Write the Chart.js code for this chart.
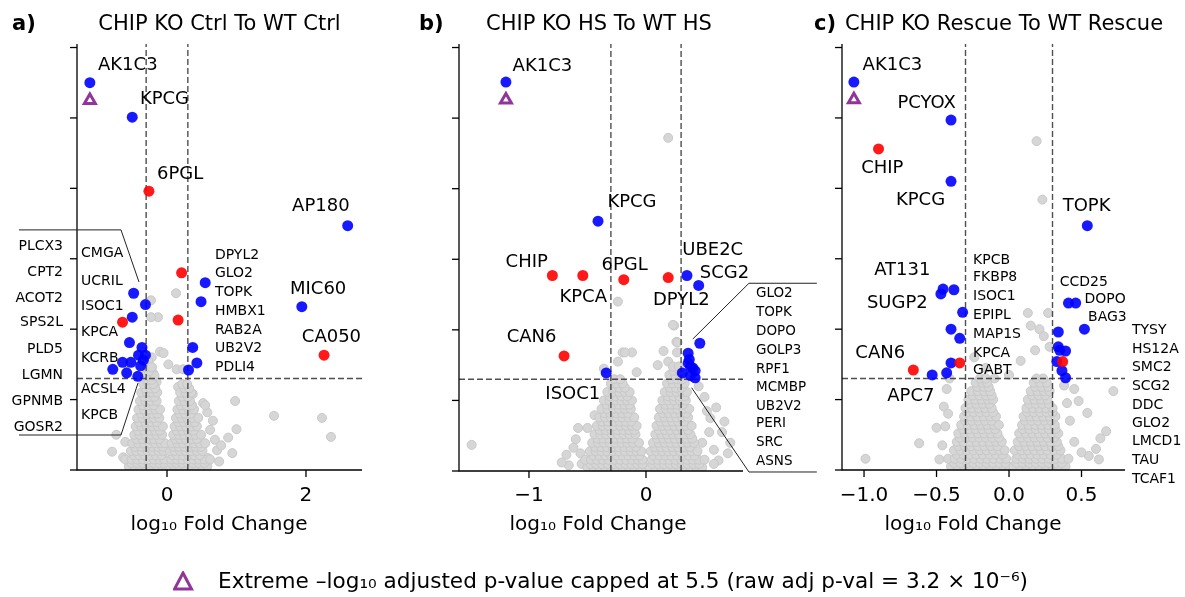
<!DOCTYPE html>
<html>
<head>
<meta charset="utf-8">
<script src="https://cdn.jsdelivr.net/npm/chart.js@4.4.0/dist/chart.umd.min.js"></script>
<style>
  body { margin: 0; background: #fff; width: 1185px; height: 597px; overflow: hidden; position: relative; font-family: "DejaVu Sans", sans-serif; }
  canvas { position: absolute; left: 0; top: 0; }
  #legtri { position: absolute; left: 173px; top: 571px; }
  #legtext { position: absolute; left: 218px; top: 568px; font-size: 22px; line-height: 26px; white-space: nowrap; transform-origin: 0 50%; color: #000; }
</style>
</head>
<body>
<canvas id="pa" width="1185" height="597"></canvas>
<canvas id="pb" width="1185" height="597"></canvas>
<canvas id="pc" width="1185" height="597"></canvas>
<svg id="legtri" width="22" height="22"><polygon points="10,2 18.5,18 1.5,18" fill="none" stroke="#92359a" stroke-width="3" stroke-linejoin="miter"/></svg>
<div id="legtext">Extreme –log₁₀ adjusted p-value capped at 5.5 (raw adj p-val = 3.2 × 10⁻⁶)</div>
<script>
// thresholds and ticks
const fcCut = 0.3;
const pCut = 1.3;
const yTicks = [0, 1, 2, 3, 4, 5, 6];
const xTicksA = [0, 2], xLabelsA = ["0", "2"];
const xTicksB = [-1, 0], xLabelsB = ["−1", "0"];
const xTicksC = [-1.0, -0.5, 0.0, 0.5], xLabelsC = ["−1.0", "−0.5", "0.0", "0.5"];

// ---- panel a: CHIP KO Ctrl vs WT Ctrl ----
const blueA = [[-1.11,5.5],[-0.50,5.01],[2.60,3.47],[1.94,2.32],[0.55,2.66],[0.49,2.39],[0.37,1.74],[0.43,1.52],[0.31,1.42],
  [-0.48,2.51],[-0.31,2.35],[-0.50,2.17],[-0.54,1.81],[-0.36,1.74],[-0.41,1.63],[-0.31,1.63],[-0.34,1.56],[-0.64,1.53],
  [-0.52,1.53],[-0.38,1.48],[-0.78,1.43],[-0.58,1.38],[-0.42,1.33]];
const redA = [[-0.26,3.96],[2.26,1.63],[0.21,2.80],[0.16,2.13],[-0.64,2.10]];
const capA = [[-1.11,5.25]];
// non-significant proteins: scattered ones, then the dense core rows [y, [x...]]
const grayA = [
  [0.13,2.51],[-0.23,2.41],[-0.13,2.17],[-0.23,2.17],[-0.10,1.68],[-0.22,1.60],[0.14,1.43],[0.23,1.43],[-0.22,1.46],
  [0.16,1.18],[0.37,1.08],[0.52,0.95],[0.58,0.82],[0.69,0.43],[0.59,0.17],[0.94,0.24],[0.98,0.98],[1.00,0.58],[0.88,0.46],
  [1.54,0.77],[2.23,0.74],[2.36,0.47],[-0.79,0.26],[-0.73,0.50],[-0.63,0.18],[-0.53,0.04],[0.55,0.92],[0.62,0.57],
  [0.72,0.28],[0.78,0.35],[-0.05,1.66],[0.02,1.50],[-0.27,1.55],[-0.20,1.38],[-0.15,1.25],[-0.60,0.40],[0.66,0.70],[0.75,0.12]];
const grayRowsA = [
  [0.05,[-0.55,-0.47,-0.39,-0.31,-0.23,-0.15,-0.07,-0.01,0.03,0.10,0.18,0.26,0.34,0.42,0.50,0.58]],
  [0.10,[-0.51,-0.43,-0.35,-0.27,-0.19,-0.11,-0.04,0.06,0.14,0.22,0.30,0.38,0.46,0.54]],
  [0.15,[-0.60,-0.51,-0.43,-0.35,-0.27,-0.19,-0.11,-0.04,0.06,0.14,0.22,0.30,0.38,0.46,0.54,0.62]],
  [0.21,[-0.48,-0.40,-0.32,-0.24,-0.16,-0.08,0.08,0.15,0.23,0.31,0.39,0.47]],
  [0.27,[-0.52,-0.44,-0.36,-0.28,-0.20,-0.12,-0.05,0.04,0.11,0.19,0.27,0.35,0.43,0.51]],
  [0.33,[-0.46,-0.37,-0.29,-0.21,-0.13,-0.06,0.09,0.17,0.25,0.33,0.41,0.49]],
  [0.38,[-0.50,-0.41,-0.33,-0.25,-0.17,-0.09,-0.03,0.07,0.15,0.23,0.31,0.39,0.47,0.55]],
  [0.44,[-0.44,-0.35,-0.27,-0.19,-0.11,0.12,0.19,0.27,0.35,0.43]],
  [0.50,[-0.47,-0.39,-0.31,-0.23,-0.15,-0.07,0.09,0.17,0.25,0.33,0.41,0.49]],
  [0.56,[-0.42,-0.33,-0.25,-0.17,-0.10,0.14,0.22,0.30,0.38]],
  [0.62,[-0.45,-0.37,-0.29,-0.21,-0.13,-0.06,0.11,0.19,0.27,0.35,0.43]],
  [0.68,[-0.40,-0.31,-0.23,-0.15,0.16,0.24,0.32,0.40]],
  [0.74,[-0.43,-0.35,-0.27,-0.19,-0.11,0.13,0.21,0.29,0.37,0.45]],
  [0.80,[-0.37,-0.29,-0.21,-0.14,0.18,0.26,0.34]],
  [0.86,[-0.41,-0.33,-0.25,-0.17,-0.10,0.15,0.23,0.31,0.39]],
  [0.92,[-0.35,-0.27,-0.19,0.20,0.28,0.36]],
  [0.98,[-0.39,-0.31,-0.23,-0.15,0.17,0.25,0.33]],
  [1.04,[-0.33,-0.25,-0.18,0.22,0.30]],
  [1.10,[-0.37,-0.29,-0.21,-0.14,0.19,0.27,0.35]],
  [1.16,[-0.31,-0.24,-0.17,0.25,0.32]],
  [1.22,[-0.34,-0.27,-0.20,0.22,0.29]],
  [1.28,[-0.29,-0.22]],
  [1.34,[-0.32,-0.25,-0.18]],
  [1.40,[-0.26]],
  [1.46,[-0.29,-0.22]]];
const bigA = [["AK1C3",-0.993,5.74],["KPCG",-0.39,5.26],["6PGL",-0.144,4.2],["AP180",1.8,3.75],["MIC60",1.77,2.57],["CA050",1.94,1.89]];
const listsA = [
  { x: -1.496, align: "right", names: ["PLCX3","CPT2","ACOT2","SPS2L","PLD5","LGMN","GPNMB","GOSR2"], ys: [3.18,2.81,2.44,2.09,1.72,1.35,0.97,0.61] },
  { x: -1.237, align: "left", names: ["CMGA","UCRIL","ISOC1","KPCA","KCRB","ACSL4","KPCB"], ys: [3.07,2.68,2.32,1.95,1.59,1.15,0.78] },
  { x: 0.69, align: "left", names: ["DPYL2","GLO2","TOPK","HMBX1","RAB2A","UB2V2","PDLI4"], ys: [3.05,2.79,2.52,2.26,1.99,1.73,1.46] }];
const leadersA = [[[-2.13,3.41],[-0.662,3.41],[-0.403,2.67]], [[-2.13,0.497],[-0.662,0.497],[-0.417,1.236]]];

// ---- panel b: CHIP KO HS vs WT HS ----
const blueB = [[-1.197,5.51],[-0.41,3.54],[0.35,2.77],[0.45,2.63],[0.46,1.81],[0.36,1.67],[0.37,1.58],[0.38,1.48],[0.40,1.46],
  [0.31,1.39],[0.38,1.35],[0.42,1.32],[0.36,1.53],[0.42,1.42],[-0.34,1.39]];
const redB = [[-0.80,2.77],[-0.54,2.77],[-0.19,2.71],[0.19,2.74],[-0.70,1.63]];
const capB = [[-1.197,5.26]];
const grayB = [
  [-1.49,0.37],[-0.68,0.23],[-0.62,0.33],[-0.58,0.61],[-0.50,0.61],[-0.44,0.79],[-0.66,0.08],[-0.55,0.10],[-0.20,1.68],
  [-0.12,1.68],[-0.24,1.55],[-0.24,2.40],[0.24,2.06],[0.26,1.83],[0.19,4.72],[0.60,0.90],[0.65,0.55],[0.72,0.40],[0.70,0.25],
  [0.58,0.30],[0.55,0.75],[0.50,1.05],[0.62,0.15],[0.45,1.20],[0.67,0.70],[-0.36,1.45],[-0.08,1.40],[0.10,1.50],[0.15,1.70],
  [0.23,2.07],[0.27,1.82],[0.265,1.68],[0.19,1.55],[-0.18,1.68],[-0.25,1.25],[-0.60,0.45],[-0.56,0.25],[-0.72,0.12],
  [0.54,0.55],[0.58,0.10],[0.52,0.85],[0.48,0.40]];
const grayRowsB = [
  [0.05,[-0.50,-0.45,-0.40,-0.35,-0.30,-0.25,-0.20,-0.15,-0.10,-0.05,0.00,0.03,0.08,0.13,0.18,0.23,0.28,0.33,0.38,0.43,0.48]],
  [0.10,[-0.475,-0.425,-0.375,-0.325,-0.275,-0.225,-0.175,-0.125,-0.075,-0.03,0.055,0.105,0.155,0.205,0.255,0.305,0.355,0.405,0.455]],
  [0.16,[-0.52,-0.47,-0.42,-0.37,-0.32,-0.27,-0.22,-0.17,-0.12,-0.07,-0.03,0.05,0.10,0.15,0.20,0.25,0.30,0.35,0.40,0.45,0.50]],
  [0.22,[-0.45,-0.40,-0.35,-0.30,-0.25,-0.20,-0.15,-0.10,-0.055,0.065,0.115,0.165,0.215,0.265,0.315,0.365,0.415]],
  [0.28,[-0.48,-0.43,-0.38,-0.33,-0.28,-0.23,-0.18,-0.13,-0.08,-0.04,0.04,0.09,0.14,0.19,0.24,0.29,0.34,0.39,0.44]],
  [0.34,[-0.435,-0.385,-0.335,-0.285,-0.235,-0.185,-0.135,-0.085,0.075,0.125,0.175,0.225,0.275,0.325,0.375]],
  [0.40,[-0.46,-0.41,-0.36,-0.31,-0.26,-0.21,-0.16,-0.11,-0.06,0.06,0.11,0.16,0.21,0.26,0.31,0.36,0.41]],
  [0.46,[-0.415,-0.365,-0.315,-0.265,-0.215,-0.165,-0.115,0.095,0.145,0.195,0.245,0.295,0.345,0.395]],
  [0.52,[-0.44,-0.39,-0.34,-0.29,-0.24,-0.19,-0.14,-0.09,0.08,0.13,0.18,0.23,0.28,0.33,0.38]],
  [0.58,[-0.395,-0.345,-0.295,-0.245,-0.195,-0.145,-0.10,0.11,0.16,0.21,0.26,0.31,0.36]],
  [0.64,[-0.42,-0.37,-0.32,-0.27,-0.22,-0.17,-0.12,-0.08,0.09,0.14,0.19,0.24,0.29,0.34,0.39]],
  [0.70,[-0.375,-0.325,-0.275,-0.225,-0.175,-0.125,0.125,0.175,0.225,0.275,0.325]],
  [0.76,[-0.40,-0.35,-0.30,-0.25,-0.20,-0.15,-0.10,0.11,0.16,0.21,0.26,0.31,0.36]],
  [0.82,[-0.355,-0.305,-0.255,-0.205,-0.155,0.145,0.195,0.245,0.295,0.345]],
  [0.88,[-0.38,-0.33,-0.28,-0.23,-0.18,-0.13,0.12,0.17,0.22,0.27,0.32,0.37]],
  [0.94,[-0.335,-0.285,-0.235,-0.185,-0.14,0.165,0.215,0.265,0.315]],
  [1.00,[-0.36,-0.31,-0.26,-0.21,-0.16,-0.12,0.14,0.19,0.24,0.29,0.34]],
  [1.06,[-0.31,-0.26,-0.21,-0.16,0.185,0.235,0.285,0.33]],
  [1.12,[-0.33,-0.28,-0.23,-0.18,-0.14,0.16,0.21,0.26,0.31,0.35]],
  [1.18,[-0.28,-0.23,-0.18,0.205,0.255,0.305]],
  [1.24,[-0.30,-0.25,-0.20,0.18,0.23,0.28,0.33]],
  [1.30,[-0.27,-0.22,0.215,0.265,0.31]],
  [1.36,[0.20,0.25,0.30]],
  [1.42,[0.235,0.285]],
  [1.48,[0.23,0.28]]];
const bigB = [["AK1C3",-1.14,5.74],["KPCG",-0.33,3.80],["UBE2C",0.31,3.12],["SCG2",0.46,2.80],["CHIP",-1.2,2.95],
  ["6PGL",-0.38,2.92],["KPCA",-0.74,2.46],["DPYL2",0.06,2.42],["CAN6",-1.19,1.90],["ISOC1",-0.86,1.08]];
const listsB = [
  { x: 0.94, align: "left", size: 13.5, names: ["GLO2","TOPK","DOPO","GOLP3","RPF1","MCMBP","UB2V2","PERI","SRC","ASNS"],
    ys: [2.52,2.24,1.98,1.71,1.44,1.19,0.91,0.67,0.40,0.13] }];
const leadersB = [[[1.46,2.66],[0.88,2.66],[0.40,1.87]], [[1.46,-0.014],[0.88,-0.014],[0.39,1.18]]];

// ---- panel c: CHIP KO Rescue vs WT Rescue ----
const blueC = [[-1.07,5.51],[-0.40,4.97],[-0.40,4.10],[0.54,3.47],[-0.455,2.57],[-0.47,2.50],[-0.38,2.56],[-0.32,2.24],
  [-0.40,2.00],[-0.34,1.87],[-0.40,1.52],[-0.53,1.35],[-0.43,1.38],[0.41,2.37],[0.46,2.37],[0.52,2.00],[0.34,1.96],
  [0.34,1.75],[0.35,1.70],[0.39,1.69],[0.33,1.54],[0.365,1.41],[0.39,1.31]];
const redC = [[-0.90,4.56],[-0.34,1.52],[-0.66,1.42],[0.37,1.54]];
const capC = [[-1.07,5.26]];
const grayC = [
  [-0.99,0.16],[-0.62,0.38],[0.72,1.12],[0.54,0.81],[0.48,0.98],[0.13,2.23],[0.27,2.23],[0.21,2.00],[0.24,1.90],[0.19,4.67],
  [0.23,3.84],[-0.46,0.35],[-0.48,0.15],[-0.50,0.60],[-0.45,0.90],[-0.41,1.30],[-0.43,1.15],[0.60,0.30],[0.63,0.45],
  [0.55,0.20],[0.67,0.55],[0.62,0.15],[0.45,1.15],[0.38,1.20],[0.42,0.70],[0.08,1.55],[0.18,1.70],[0.28,1.75],[-0.16,1.45],
  [-0.10,1.30],[0.00,1.35],[-0.24,1.60],[0.15,2.05],[-0.44,0.62],[-0.42,0.80],[0.45,0.40],[0.50,0.25],[0.40,0.95]];
const grayRowsC = [
  [0.05,[-0.40,-0.355,-0.31,-0.265,-0.22,-0.175,-0.13,-0.085,-0.04,0.00,0.03,0.075,0.12,0.165,0.21,0.255,0.30,0.345,0.39]],
  [0.10,[-0.38,-0.335,-0.29,-0.245,-0.20,-0.155,-0.11,-0.065,-0.025,0.05,0.095,0.14,0.185,0.23,0.275,0.32,0.365]],
  [0.16,[-0.42,-0.375,-0.33,-0.285,-0.24,-0.195,-0.15,-0.105,-0.06,-0.02,0.05,0.095,0.14,0.185,0.23,0.275,0.32,0.365,0.41]],
  [0.22,[-0.36,-0.315,-0.27,-0.225,-0.18,-0.135,-0.09,-0.045,0.06,0.105,0.15,0.195,0.24,0.285,0.33]],
  [0.28,[-0.38,-0.335,-0.29,-0.245,-0.20,-0.155,-0.11,-0.065,-0.03,0.04,0.085,0.13,0.175,0.22,0.265,0.31,0.355]],
  [0.34,[-0.35,-0.305,-0.26,-0.215,-0.17,-0.125,-0.08,0.07,0.115,0.16,0.205,0.25,0.295,0.34]],
  [0.40,[-0.36,-0.315,-0.27,-0.225,-0.18,-0.135,-0.09,-0.05,0.06,0.105,0.15,0.195,0.24,0.285,0.33]],
  [0.46,[-0.34,-0.295,-0.25,-0.205,-0.16,-0.115,-0.07,0.085,0.13,0.175,0.22,0.265,0.31]],
  [0.52,[-0.35,-0.305,-0.26,-0.215,-0.17,-0.125,-0.08,0.07,0.115,0.16,0.205,0.25,0.295,0.34]],
  [0.58,[-0.32,-0.275,-0.23,-0.185,-0.14,-0.095,0.095,0.14,0.185,0.23,0.275,0.32]],
  [0.64,[-0.33,-0.285,-0.24,-0.195,-0.15,-0.105,-0.07,0.09,0.135,0.18,0.225,0.27,0.315]],
  [0.70,[-0.30,-0.255,-0.21,-0.165,-0.12,0.11,0.155,0.20,0.245,0.29]],
  [0.76,[-0.31,-0.265,-0.22,-0.175,-0.13,-0.09,0.10,0.145,0.19,0.235,0.28,0.32]],
  [0.82,[-0.29,-0.245,-0.20,-0.155,-0.11,0.125,0.17,0.215,0.26,0.30]],
  [0.88,[-0.30,-0.255,-0.21,-0.165,-0.12,0.12,0.165,0.21,0.255,0.30]],
  [0.94,[-0.27,-0.225,-0.18,-0.135,0.14,0.185,0.23,0.275]],
  [1.00,[-0.28,-0.235,-0.19,-0.145,-0.11,0.13,0.175,0.22,0.265]],
  [1.06,[-0.25,-0.205,-0.16,-0.12,0.16,0.205,0.25]],
  [1.12,[-0.26,-0.215,-0.17,-0.13,0.15,0.195,0.24,0.28]],
  [1.18,[-0.22,-0.175,-0.14,0.18,0.225,0.27]],
  [1.24,[-0.23,-0.185,-0.15,0.17,0.215,0.26]],
  [1.30,[-0.20,-0.16,0.19,0.235]]];
const bigC = [["AK1C3",-1.01,5.75],["PCYOX",-0.77,5.21],["CHIP",-1.02,4.29],["KPCG",-0.78,3.83],["TOPK",0.37,3.75],
  ["AT131",-0.93,2.84],["SUGP2",-0.98,2.37],["CAN6",-1.06,1.65],["APC7",-0.84,1.04]];
const smallC = [["CCD25",0.35,2.67],["DOPO",0.52,2.43],["BAG3",0.545,2.17]];
const listsC = [
  { x: -0.248, align: "left", names: ["KPCB","FKBP8","ISOC1","EPIPL","MAP1S","KPCA","GABT"], ys: [2.98,2.73,2.46,2.19,1.93,1.66,1.41] },
  { x: 0.848, align: "left", names: ["TYSY","HS12A","SMC2","SCG2","DDC","GLO2","LMCD1","TAU","TCAF1"],
    ys: [1.99,1.72,1.46,1.19,0.92,0.66,0.40,0.13,-0.14] }];

const rowsToPts = rows => rows.flatMap(r => r[1].map(x => [x, r[0]]));

const panels = [
  { id: "pa", letter: "a)", letterX: 12, title: "CHIP KO Ctrl To WT Ctrl", titleX: 219.5, axisX: 219,
    box: { left: 77, right: 362, top: 44, bottom: 470 }, xr: [-1.295, 2.806], xTicks: xTicksA, xLabels: xLabelsA,
    gray: grayA.concat(rowsToPts(grayRowsA)), blue: blueA, red: redA, cap: capA, big: bigA, small: [], lists: listsA, leaders: leadersA },
  { id: "pb", letter: "b)", letterX: 419, title: "CHIP KO HS To WT HS", titleX: 599, axisX: 598,
    box: { left: 459, right: 743, top: 44, bottom: 471 }, xr: [-1.598, 0.829], xTicks: xTicksB, xLabels: xLabelsB,
    gray: grayB.concat(rowsToPts(grayRowsB)), blue: blueB, red: redB, cap: capB, big: bigB, small: [], lists: listsB, leaders: leadersB },
  { id: "pc", letter: "c)", letterX: 814, title: "CHIP KO Rescue To WT Rescue", titleX: 1004, axisX: 973,
    box: { left: 842, right: 1125, top: 44, bottom: 470 }, xr: [-1.152, 0.8], xTicks: xTicksC, xLabels: xLabelsC,
    gray: grayC.concat(rowsToPts(grayRowsC)), blue: blueC, red: redC, cap: capC, big: bigC, small: smallC, lists: listsC, leaders: [] }
];

const yMax = 6.05;
const FONT = '"DejaVu Sans", sans-serif';
const pts = arr => arr.map(p => ({ x: p[0], y: p[1] }));

function makeDeco(p) {
  return {
    id: "deco_" + p.id,
    afterDraw(chart) {
      const ctx = chart.ctx, a = chart.chartArea;
      const X = v => chart.scales.x.getPixelForValue(v);
      const Y = v => chart.scales.y.getPixelForValue(v);
      ctx.save();
      ctx.strokeStyle = "#000";
      ctx.fillStyle = "#000";
      ctx.lineWidth = 1.3;
      ctx.beginPath();
      ctx.moveTo(a.left, a.top);
      ctx.lineTo(a.left, a.bottom);
      ctx.lineTo(a.right, a.bottom);
      ctx.stroke();
      yTicks.forEach(t => {
        const y = Y(t);
        ctx.beginPath(); ctx.moveTo(a.left - 7, y); ctx.lineTo(a.left, y); ctx.stroke();
      });
      ctx.font = "20px " + FONT;
      ctx.textAlign = "center";
      ctx.textBaseline = "middle";
      p.xTicks.forEach((t, i) => {
        const x = X(t);
        ctx.beginPath(); ctx.moveTo(x, a.bottom); ctx.lineTo(x, a.bottom + 7); ctx.stroke();
        ctx.fillText(p.xLabels[i], x, 496);
      });
      ctx.fillText("log₁₀ Fold Change", p.axisX, 525);
      ctx.textBaseline = "alphabetic";
      ctx.font = "21px " + FONT;
      ctx.fillText(p.title, p.titleX, 30);
      ctx.font = "bold 21px " + FONT;
      ctx.textAlign = "left";
      ctx.fillText(p.letter, p.letterX, 30);
      // leader brackets
      ctx.lineWidth = 1;
      ctx.strokeStyle = "#222";
      p.leaders.forEach(seg => {
        ctx.beginPath();
        seg.forEach((q, i) => i ? ctx.lineTo(X(q[0]), Y(q[1])) : ctx.moveTo(X(q[0]), Y(q[1])));
        ctx.stroke();
      });
      // labels
      ctx.textBaseline = "middle";
      ctx.textAlign = "left";
      ctx.font = "18px " + FONT;
      p.big.forEach(l => ctx.fillText(l[0], X(l[1]), Y(l[2])));
      ctx.font = "14px " + FONT;
      p.small.forEach(l => ctx.fillText(l[0], X(l[1]), Y(l[2])));
      p.lists.forEach(L => {
        ctx.font = (L.size || 14) + "px " + FONT;
        ctx.textAlign = L.align;
        L.names.forEach((n, i) => ctx.fillText(n, X(L.x), Y(L.ys[i])));
      });
      ctx.restore();
    }
  };
}

const dash = { borderColor: "rgba(60,60,60,0.9)", borderWidth: 1.4, borderDash: [6, 3], showLine: true, pointRadius: 0, fill: false };

panels.forEach(p => {
  new Chart(document.getElementById(p.id), {
    type: "scatter",
    data: {
      datasets: [
        { label: "capped", data: pts(p.cap), pointStyle: "triangle", pointRadius: 6.3, borderWidth: 3,
          borderColor: "#92359a", backgroundColor: "rgba(255,255,255,1)", order: 0 },
        { label: "red", data: pts(p.red), pointRadius: 5.5, borderWidth: 0, backgroundColor: "rgba(255,0,0,0.9)", order: 1 },
        { label: "blue", data: pts(p.blue), pointRadius: 5.5, borderWidth: 0, backgroundColor: "rgba(0,0,255,0.9)", order: 2 },
        Object.assign({ data: [{ x: -fcCut, y: 0 }, { x: -fcCut, y: yMax }], order: 3 }, dash),
        Object.assign({ data: [{ x: fcCut, y: 0 }, { x: fcCut, y: yMax }], order: 3 }, dash),
        Object.assign({ data: [{ x: p.xr[0], y: pCut }, { x: p.xr[1], y: pCut }], order: 3 }, dash),
        { label: "ns", data: pts(p.gray), pointRadius: 4.5, borderWidth: 1, borderColor: "#c8c8c8", backgroundColor: "#d6d6d6", order: 4 }
      ]
    },
    options: {
      responsive: false,
      animation: false,
      events: [],
      devicePixelRatio: 1,
      layout: { padding: { left: p.box.left, right: 1185 - p.box.right, top: p.box.top, bottom: 597 - p.box.bottom } },
      scales: {
        x: { type: "linear", min: p.xr[0], max: p.xr[1], display: false },
        y: { type: "linear", min: 0, max: yMax, display: false }
      },
      plugins: { legend: { display: false }, tooltip: { enabled: false } }
    },
    plugins: [makeDeco(p)]
  });
});

// fit legend text to its measured span in the reference
const lt = document.getElementById("legtext");
const w = lt.getBoundingClientRect().width;
lt.style.transform = "scaleX(" + (810 / w) + ")";
</script>
</body>
</html>
